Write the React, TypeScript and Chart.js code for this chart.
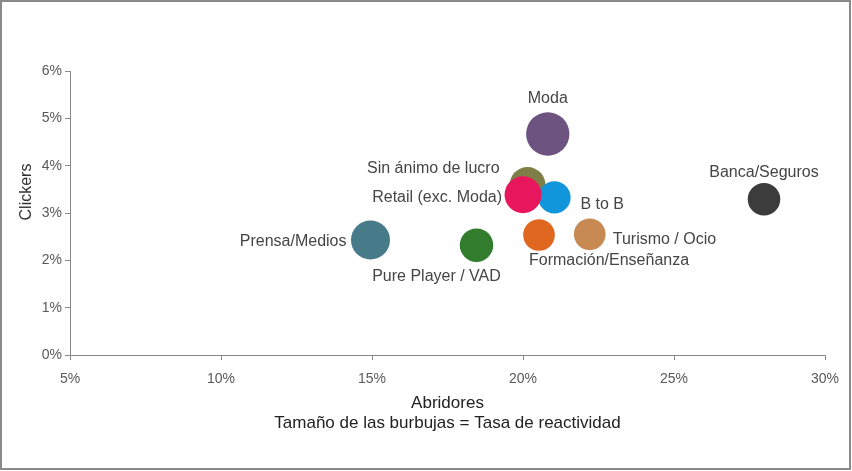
import React, { useEffect, useRef } from 'react';
import { Chart, registerables } from 'chart.js';

Chart.register(...registerables);

// ---- data ----
const categories = [
  'Prensa/Medios',
  'Pure Player / VAD',
  'Sin ánimo de lucro',
  'B to B',
  'Retail (exc. Moda)',
  'Moda',
  'Formación/Enseñanza',
  'Turismo / Ocio',
  'Banca/Seguros',
];
const abridores = [14.95, 18.46, 20.15, 21.04, 20.0, 20.82, 20.53, 22.21, 27.98]; // %
const clickers = [2.43, 2.32, 3.59, 3.33, 3.385, 4.67, 2.535, 2.55, 3.29]; // %
const reactividad = [18.4, 13.5, 15.6, 12.7, 16.5, 22.7, 12.1, 12.1, 12.8]; // bubble size
const xTickValues = [5, 10, 15, 20, 25, 30];
const yTickValues = [0, 1, 2, 3, 4, 5, 6];
const xTitle = ['Abridores', 'Tamaño de las burbujas = Tasa de reactividad'];
const yTitle = 'Clickers';

// ---- styles ----
const colors = ['#487b8a', '#327c2e', '#7e7f46', '#1196db', '#e8175d', '#6d5480', '#df6720', '#c68a52', '#3c3c3c'];
const labelPlacement: [number, number, CanvasTextAlign][] = [
  [-24, 2, 'right'],
  [-40, 31, 'center'],
  [-28, -16, 'right'],
  [26, 7, 'left'],
  [-21, 3, 'right'],
  [0, -35, 'center'],
  [-10, 26, 'left'],
  [23, 5, 'left'],
  [0, -27, 'center'],
];
const bubbleScale = 4.55;
const W = 852;
const H = 471;
const sans = '"Liberation Sans", Arial, sans-serif';

const framePlugin = {
  id: 'frame',
  beforeDraw(chart: any) {
    const ctx = chart.ctx;
    ctx.save();
    ctx.fillStyle = '#ffffff';
    ctx.fillRect(0, 0, chart.width, chart.height);
    ctx.strokeStyle = '#8a8a8a';
    ctx.lineWidth = 2;
    ctx.strokeRect(1, 1, chart.width - 3, chart.height - 3);
    ctx.restore();
  },
  afterDraw(chart: any) {
    const ctx = chart.ctx;
    ctx.save();
    ctx.font = `16px ${sans}`;
    ctx.fillStyle = '#333333';
    ctx.textAlign = 'center';
    ctx.textBaseline = 'middle';
    ctx.translate(27, 192);
    ctx.rotate(-Math.PI / 2);
    ctx.fillText(yTitle, 0, 0);
    ctx.restore();
  },
};

const labelPlugin = {
  id: 'bubbleLabels',
  afterDatasetsDraw(chart: any) {
    const ctx = chart.ctx;
    const meta = chart.getDatasetMeta(0);
    ctx.save();
    ctx.font = `16px ${sans}`;
    ctx.fillStyle = '#454545';
    ctx.textBaseline = 'middle';
    meta.data.forEach((el: any, i: number) => {
      const [dx, dy, align] = labelPlacement[i];
      ctx.textAlign = align;
      ctx.fillText(categories[i], el.x + dx, el.y + dy);
    });
    ctx.restore();
  },
};

export default function App() {
  const ref = useRef<HTMLCanvasElement | null>(null);

  useEffect(() => {
    document.body.style.margin = '0';
    if (!ref.current) return;
    const chart = new Chart(ref.current, {
      type: 'bubble',
      data: {
        datasets: [
          {
            label: 'Sectores',
            data: categories.map((_, i) => ({
              x: abridores[i],
              y: clickers[i],
              r: bubbleScale * Math.sqrt(reactividad[i]),
            })),
            backgroundColor: colors,
            borderWidth: 0,
            hoverBorderWidth: 0,
          },
        ],
      },
      options: {
        animation: false,
        responsive: false,
        devicePixelRatio: 1,
        layout: { padding: { top: 71, right: 27, bottom: 38, left: 0 } },
        plugins: {
          legend: { display: false },
          tooltip: { enabled: false },
        },
        scales: {
          x: {
            type: 'linear',
            min: 5,
            max: 30,
            afterBuildTicks: (s: any) => {
              s.ticks = xTickValues.map((v) => ({ value: v }));
            },
            afterFit: (s: any) => {
              s.height = 78;
            },
            ticks: {
              callback: (v: any) => `${v}%`,
              font: { family: sans, size: 14 },
              color: '#595959',
              padding: 11,
            },
            grid: { drawOnChartArea: false, drawTicks: true, tickLength: 5, color: '#888888' },
            border: { color: '#888888', width: 1 },
            title: {
              display: true,
              text: xTitle,
              font: { family: sans, size: 17, lineHeight: 20 / 17 },
              color: '#222222',
              padding: 0,
            },
          },
          y: {
            type: 'linear',
            min: 0,
            max: 6,
            afterBuildTicks: (s: any) => {
              s.ticks = yTickValues.map((v) => ({ value: v }));
            },
            afterFit: (s: any) => {
              s.width = 70;
            },
            ticks: {
              callback: (v: any) => `${v}%`,
              font: { family: sans, size: 14 },
              color: '#595959',
              padding: 3,
            },
            grid: { drawOnChartArea: false, drawTicks: true, tickLength: 5, color: '#888888' },
            border: { color: '#888888', width: 1 },
          },
        },
      },
      plugins: [framePlugin, labelPlugin],
    });
    return () => chart.destroy();
  }, []);

  return (
    <div style={{ width: W, height: H }}>
      <canvas ref={ref} width={W} height={H} style={{ width: W, height: H, display: 'block' }} />
    </div>
  );
}
